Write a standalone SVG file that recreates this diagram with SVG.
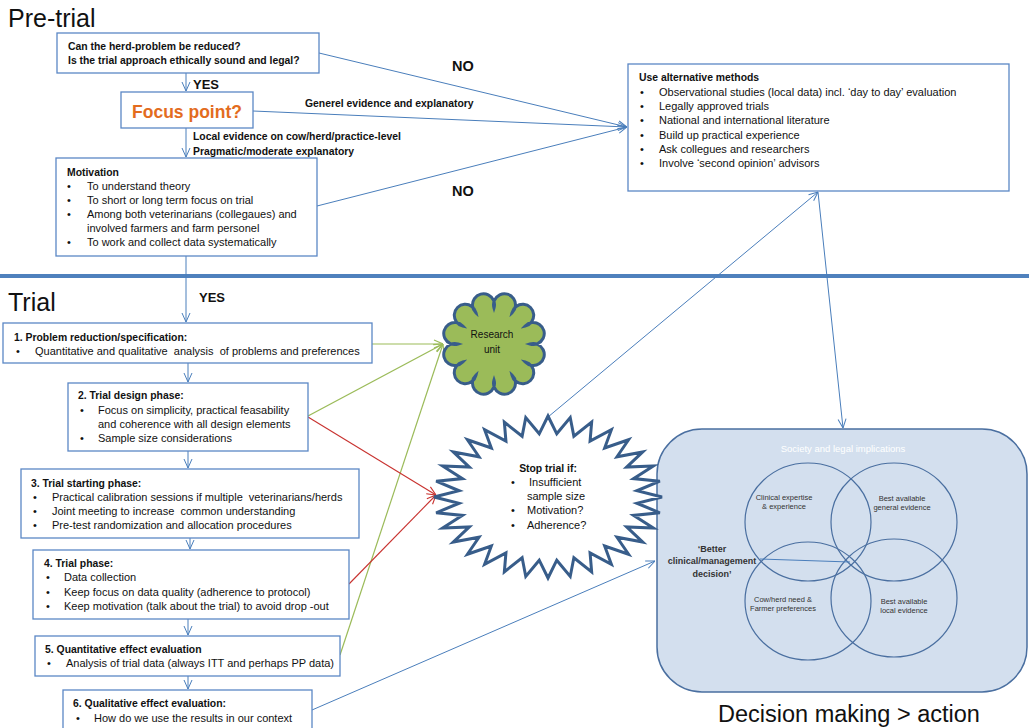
<svg xmlns="http://www.w3.org/2000/svg" width="1029" height="728" viewBox="0 0 1029 728">
  <style>
    text { font-family: "Liberation Sans", Arial, sans-serif; fill: #111; }
    .hdr { font-size: 25px; }
    .b { font-size: 10.4px; font-weight: bold; }
    .t { font-size: 11px; }
    .lbl { font-size: 13px; font-weight: bold; }
    .box { fill: #fff; stroke: #5B87C5; stroke-width: 1.3; }
    .cb { fill: none; stroke: #4A7EBB; stroke-width: 1; }
    .cg { fill: none; stroke: #9BBB59; stroke-width: 1.2; }
    .cr { fill: none; stroke: #C8322F; stroke-width: 1.1; }
    .ring { fill: none; stroke: #4A6FA0; stroke-width: 1.2; }
    .small { font-size: 7.5px; fill: #333; }
  </style>
  <defs>
    <marker id="ab" viewBox="0 0 10 10" refX="10" refY="5" markerWidth="10" markerHeight="10" markerUnits="userSpaceOnUse" orient="auto">
      <path d="M1,1 L10,5 L1,9" fill="none" stroke="#4A7EBB" stroke-width="1"/>
    </marker>
    <marker id="ag" viewBox="0 0 10 10" refX="10" refY="5" markerWidth="10" markerHeight="10" markerUnits="userSpaceOnUse" orient="auto">
      <path d="M1,1 L10,5 L1,9" fill="none" stroke="#9BBB59" stroke-width="1.2"/>
    </marker>
    <marker id="ar" viewBox="0 0 10 10" refX="10" refY="5" markerWidth="10" markerHeight="10" markerUnits="userSpaceOnUse" orient="auto">
      <path d="M1,1 L10,5 L1,9" fill="none" stroke="#C8322F" stroke-width="1.1"/>
    </marker>
  </defs>

  <!-- section headings and divider -->
  <text class="hdr" x="8" y="27">Pre-trial</text>
  <text class="hdr" x="8" y="311">Trial</text>
  <text class="hdr" x="718" y="722" style="font-size:23.5px">Decision making &gt; action</text>
  <rect x="0" y="274" width="1029" height="4" fill="#4F81BD"/>

  <!-- decision area -->
  <g id="decision">
    <rect x="657" y="429" width="370" height="263" rx="45" ry="45" fill="#D3DFEE" stroke="#4A6FA0" stroke-width="1.5"/>
    <text x="843" y="452" text-anchor="middle" style="font-size:9.5px;fill:#fff">Society and legal implications</text>
    <ellipse class="ring" cx="808" cy="522" rx="63" ry="59"/>
    <ellipse class="ring" cx="894" cy="522" rx="63" ry="59"/>
    <ellipse class="ring" cx="808" cy="601" rx="63" ry="59"/>
    <ellipse class="ring" cx="894" cy="598" rx="63" ry="59"/>
    <line x1="760" y1="559" x2="850" y2="562" stroke="#4A7EBB" stroke-width="1"/>
    <text class="small" x="784" y="500" text-anchor="middle">Clinical expertise</text>
    <text class="small" x="784" y="509" text-anchor="middle">&amp; experience</text>
    <text class="small" x="902" y="501" text-anchor="middle">Best available</text>
    <text class="small" x="902" y="510" text-anchor="middle">general evidence</text>
    <text class="small" x="783" y="602" text-anchor="middle">Cow/herd need &amp;</text>
    <text class="small" x="783" y="611" text-anchor="middle">Farmer preferences</text>
    <text class="small" x="904" y="604" text-anchor="middle">Best available</text>
    <text class="small" x="904" y="613" text-anchor="middle">local evidence</text>
    <text x="712" y="552" text-anchor="middle" style="font-size:9px;font-weight:bold;fill:#333">‘Better</text>
    <text x="712" y="564" text-anchor="middle" style="font-size:9px;font-weight:bold;fill:#333">clinical/management</text>
    <text x="712" y="577" text-anchor="middle" style="font-size:9px;font-weight:bold;fill:#333">decision’</text>
  </g>

  <!-- connectors -->
  <g id="connectors">
    <line class="cb" x1="186" y1="73" x2="186" y2="91" marker-end="url(#ab)"/>
    <line class="cb" x1="186" y1="128" x2="186" y2="157" marker-end="url(#ab)"/>
    <line class="cb" x1="186" y1="256" x2="186" y2="322" marker-end="url(#ab)"/>
    <line class="cb" x1="188" y1="363" x2="188" y2="382" marker-end="url(#ab)"/>
    <line class="cb" x1="188" y1="451" x2="188" y2="468" marker-end="url(#ab)"/>
    <line class="cb" x1="190" y1="538" x2="190" y2="549" marker-end="url(#ab)"/>
    <line class="cb" x1="188" y1="619" x2="188" y2="635" marker-end="url(#ab)"/>
    <line class="cb" x1="188" y1="676" x2="188" y2="689" marker-end="url(#ab)"/>
    <line class="cb" x1="319" y1="53" x2="627" y2="127" marker-end="url(#ab)"/>
    <line class="cb" x1="253" y1="111" x2="627" y2="127" marker-end="url(#ab)"/>
    <line class="cb" x1="317" y1="206" x2="627" y2="127" marker-end="url(#ab)"/>
    <line class="cb" x1="548" y1="417" x2="818" y2="192" marker-end="url(#ab)"/>
    <line class="cb" x1="818" y1="192" x2="843" y2="428" marker-end="url(#ab)"/>
    <line class="cb" x1="312" y1="710" x2="655" y2="561" marker-end="url(#ab)"/>
    <line class="cg" x1="372" y1="344" x2="443" y2="344" marker-end="url(#ag)"/>
    <line class="cg" x1="308" y1="416" x2="443" y2="344" marker-end="url(#ag)"/>
    <line class="cg" x1="340" y1="655" x2="443" y2="344" marker-end="url(#ag)"/>
    <line class="cr" x1="308" y1="417" x2="436" y2="495" marker-end="url(#ar)"/>
    <line class="cr" x1="349" y1="584" x2="436" y2="495" marker-end="url(#ar)"/>
  </g>

  <!-- connector labels -->
  <text class="lbl" x="193" y="89">YES</text>
  <text class="lbl" x="199" y="302">YES</text>
  <text class="lbl" x="452" y="71" style="font-size:14.5px">NO</text>
  <text class="lbl" x="452" y="196" style="font-size:14.5px">NO</text>
  <text class="b" x="305" y="107">Generel evidence and explanatory</text>
  <text class="b" x="193" y="140">Local evidence on cow/herd/practice-level</text>
  <text class="b" x="193" y="155">Pragmatic/moderate explanatory</text>

  <g id="question">
    <rect class="box" x="57" y="33" width="262" height="40"/>
    <text class="b" x="68" y="50">Can the herd-problem be reduced?</text>
    <text class="b" x="68" y="64">Is the trial approach ethically sound and legal?</text>
  </g>

  <g id="focus">
    <rect class="box" x="121" y="92" width="132" height="36"/>
    <text x="187" y="118" text-anchor="middle" style="font-size:17.5px;font-weight:bold;fill:#E36C1E">Focus point?</text>
  </g>

  <g id="motivation">
    <rect class="box" x="56" y="158" width="261" height="98"/>
    <text class="b" x="67" y="176">Motivation</text>
    <text class="t" x="67" y="190">•</text><text class="t" x="87" y="190">To understand theory</text>
    <text class="t" x="67" y="204">•</text><text class="t" x="87" y="204">To short or long term focus on trial</text>
    <text class="t" x="67" y="218">•</text><text class="t" x="87" y="218">Among both veterinarians (collegaues) and</text>
    <text class="t" x="87" y="232">involved farmers and farm personel</text>
    <text class="t" x="67" y="246">•</text><text class="t" x="87" y="246">To work and collect data systematically</text>
  </g>

  <g id="alternatives">
    <rect class="box" x="628" y="64" width="381" height="127"/>
    <text class="b" x="639" y="81">Use alternative methods</text>
    <text class="t" x="640" y="96">•</text><text class="t" x="659" y="96">Observational studies (local data) incl. ‘day to day’ evaluation</text>
    <text class="t" x="640" y="110">•</text><text class="t" x="659" y="110">Legally approved trials</text>
    <text class="t" x="640" y="124">•</text><text class="t" x="659" y="124">National and international literature</text>
    <text class="t" x="640" y="139">•</text><text class="t" x="659" y="139">Build up practical experience</text>
    <text class="t" x="640" y="153">•</text><text class="t" x="659" y="153">Ask collegues and researchers</text>
    <text class="t" x="640" y="167">•</text><text class="t" x="659" y="167">Involve ‘second opinion’ advisors</text>
  </g>

  <g id="step1">
    <rect class="box" x="3" y="323" width="369" height="40"/>
    <text class="b" x="14" y="341">1. Problem reduction/specification:</text>
    <text class="t" x="16" y="355">•</text><text class="t" x="35" y="355" xml:space="preserve">Quantitative and qualitative  analysis  of problems and preferences</text>
  </g>

  <g id="step2">
    <rect class="box" x="68" y="383" width="240" height="68"/>
    <text class="b" x="78" y="399">2. Trial design phase:</text>
    <text class="t" x="80" y="414">•</text><text class="t" x="98" y="414">Focus on simplicity, practical feasability</text>
    <text class="t" x="98" y="428">and coherence with all design elements</text>
    <text class="t" x="80" y="442">•</text><text class="t" x="98" y="442">Sample size considerations</text>
  </g>

  <g id="step3">
    <rect class="box" x="21" y="469" width="338" height="69"/>
    <text class="b" x="31" y="487">3. Trial starting phase:</text>
    <text class="t" x="33" y="501">•</text><text class="t" x="52" y="501" xml:space="preserve">Practical calibration sessions if multiple  veterinarians/herds</text>
    <text class="t" x="33" y="515">•</text><text class="t" x="52" y="515" xml:space="preserve">Joint meeting to increase  common understanding</text>
    <text class="t" x="33" y="529">•</text><text class="t" x="52" y="529">Pre-test randomization and allocation procedures</text>
  </g>

  <g id="step4">
    <rect class="box" x="33" y="550" width="316" height="69"/>
    <text class="b" x="44" y="567">4. Trial phase:</text>
    <text class="t" x="46" y="581">•</text><text class="t" x="64" y="581">Data collection</text>
    <text class="t" x="46" y="596">•</text><text class="t" x="64" y="596">Keep focus on data quality (adherence to protocol)</text>
    <text class="t" x="46" y="610">•</text><text class="t" x="64" y="610">Keep motivation (talk about the trial) to avoid drop -out</text>
  </g>

  <g id="step5">
    <rect class="box" x="35" y="636" width="305" height="40"/>
    <text class="b" x="45" y="653">5. Quantitative effect evaluation</text>
    <text class="t" x="47" y="667">•</text><text class="t" x="66" y="667">Analysis of trial data (always ITT and perhaps PP data)</text>
  </g>

  <g id="step6">
    <rect class="box" x="63" y="690" width="249" height="50"/>
    <text class="b" x="73" y="707">6. Qualitative effect evaluation:</text>
    <text class="t" x="76" y="722">•</text><text class="t" x="94" y="722">How do we use the results in our context</text>
  </g>

  <g id="research-unit">
    <path d="M530,344 A11,11 0 1 1 525.2,362 A11,11 0 1 1 512,375.2 A11,11 0 1 1 494,380 A11,11 0 1 1 476,375.2 A11,11 0 1 1 462.8,362 A11,11 0 1 1 458,344 A11,11 0 1 1 462.8,326 A11,11 0 1 1 476,312.8 A11,11 0 1 1 494,308 A11,11 0 1 1 512,312.8 A11,11 0 1 1 525.2,326 A11,11 0 1 1 530,344 Z" fill="#9BBB59" stroke="#385D8A" stroke-width="3"/>
    <text x="492" y="338" text-anchor="middle" style="font-size:10px">Research</text>
    <text x="492" y="353" text-anchor="middle" style="font-size:10px">unit</text>
  </g>

  <g id="stop-trial">
    <polygon transform="translate(548,497) scale(114,81)" vector-effect="non-scaling-stroke" fill="#fff" stroke="#385D8A" stroke-width="3" stroke-linejoin="miter"
      points="1,0 .78,.077 .981,.195 .75,.227 .924,.383 .69,.369 .831,.556 .605,.497 .707,.707 .497,.605 .556,.831 .369,.69 .383,.924 .227,.75 .195,.981 .077,.78 0,1 -.077,.78 -.195,.981 -.227,.75 -.383,.924 -.369,.69 -.556,.831 -.497,.605 -.707,.707 -.605,.497 -.831,.556 -.69,.369 -.924,.383 -.75,.227 -.981,.195 -.78,.077 -1,0 -.78,-.077 -.981,-.195 -.75,-.227 -.924,-.383 -.69,-.369 -.831,-.556 -.605,-.497 -.707,-.707 -.497,-.605 -.556,-.831 -.369,-.69 -.383,-.924 -.227,-.75 -.195,-.981 -.077,-.78 0,-1 .077,-.78 .195,-.981 .227,-.75 .383,-.924 .369,-.69 .556,-.831 .497,-.605 .707,-.707 .605,-.497 .831,-.556 .69,-.369 .924,-.383 .75,-.227 .981,-.195 .78,-.077"/>
    <text class="b" x="548" y="472" text-anchor="middle">Stop trial if:</text>
    <text class="t" x="511" y="486">•</text><text class="t" x="529" y="486">Insufficient</text>
    <text class="t" x="527" y="500">sample size</text>
    <text class="t" x="511" y="514">•</text><text class="t" x="527" y="514">Motivation?</text>
    <text class="t" x="511" y="529">•</text><text class="t" x="527" y="529">Adherence?</text>
  </g>
</svg>
